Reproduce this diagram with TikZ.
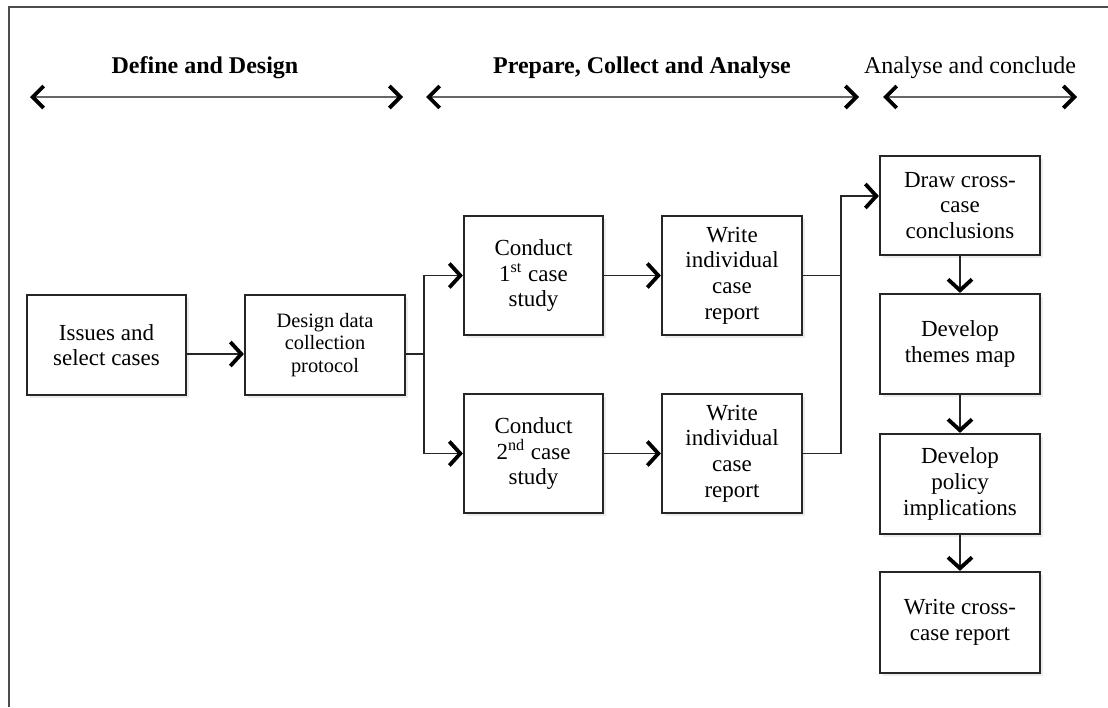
\documentclass[tikz,border=0pt]{standalone}
\usepackage{fontspec}
\setmainfont{Liberation Serif}
\usetikzlibrary{arrows.meta,shadows}
\begin{document}
\begin{tikzpicture}[x=0.5pt,y=-0.5pt,
  box/.style={draw=black!85, line width=1.1pt, fill=white, align=center, inner sep=0pt,
    font=\fontsize{11.5}{12.8}\selectfont,
    drop shadow={opacity=0.15, shadow xshift=1.5pt, shadow yshift=-1.5pt}},
  conn/.style={draw=black!85, line width=0.75pt},
  tip/.style={-{Straight Barb[length=5.5pt,width=12pt,line width=1.9pt,color=black]}},
  hdr/.style={font=\fontsize{12}{14}\selectfont, anchor=base, inner sep=0pt},
  span/.style={draw=black!60, line width=1.1pt,
    {Straight Barb[length=5.5pt,width=11pt,line width=1.9pt,color=black]}-{Straight Barb[length=5.5pt,width=11pt,line width=1.9pt,color=black]}}
]
\useasboundingbox (0,0) rectangle (1108,707);
% frame
\draw[black!70, line width=1pt] (9,707) -- (9,7) -- (1108,7);

% headers
\node[hdr] (h1) at (205,73) {\bfseries Define and Design};
\node[hdr] (h2) at (642,73) {\bfseries Prepare, Collect and Analyse};
\node[hdr] (h3) at (970,73) {Analyse and conclude};
\coordinate (a1l) at (30,97);  \coordinate (a1r) at (403,97);
\coordinate (a2l) at (426,97); \coordinate (a2r) at (859,97);
\coordinate (a3l) at (883,97); \coordinate (a3r) at (1077,97);
\draw[span] (a1l) -- (a1r);
\draw[span] (a2l) -- (a2r);
\draw[span] (a3l) -- (a3r);

% boxes
\node[box, minimum width=79.5pt, minimum height=50pt] (issues) at (106.5,345) {Issues and\\select cases};
\node[box, minimum width=80pt, minimum height=50pt, font=\fontsize{10.2}{11.3}\selectfont] (design) at (325,345) {Design data\\collection\\protocol};
\node[box, minimum width=69.5pt, minimum height=59.5pt] (c1) at (533.5,275.5) {Conduct\\1\textsuperscript{st} case\\study};
\node[box, minimum width=70pt, minimum height=59.5pt] (w1) at (732,275.5) {Write\\individual\\case\\report};
\node[box, minimum width=69.5pt, minimum height=59.5pt] (c2) at (533.5,453.5) {Conduct\\2\textsuperscript{nd} case\\study};
\node[box, minimum width=70pt, minimum height=59.5pt] (w2) at (732,453.5) {Write\\individual\\case\\report};
\node[box, minimum width=80pt, minimum height=49.5pt] (draw) at (960,205.5) {Draw cross-\\case\\conclusions};
\node[box, minimum width=80pt, minimum height=50pt] (themes) at (960,344) {Develop\\themes map};
\node[box, minimum width=80pt, minimum height=50pt] (policy) at (960,484) {Develop\\policy\\implications};
\node[box, minimum width=80pt, minimum height=50.5pt] (wcross) at (960,622.5) {Write cross-\\case report};

% connectors
\coordinate (j1) at (424,354);
\coordinate (j2) at (841,196);
\draw[conn,tip] ([yshift=-4.5pt]issues.east) -- ([yshift=-4.5pt]design.west);
\draw[conn] ([yshift=-4.5pt]design.east) -- (j1);
\draw[conn,tip] (j1) |- (c1.west);
\draw[conn,tip] (j1) |- (c2.west);
\draw[conn,tip] (c1.east) -- (w1.west);
\draw[conn,tip] (c2.east) -- (w2.west);
\draw[conn] (w1.east) -- (w1.east -| j2);
\draw[conn,tip] (w2.east) -| (j2) -- (j2 -| draw.west);
\draw[conn,tip] (draw.south) -- (themes.north);
\draw[conn,tip] (themes.south) -- (policy.north);
\draw[conn,tip] (policy.south) -- (wcross.north);
\end{tikzpicture}
\end{document}
